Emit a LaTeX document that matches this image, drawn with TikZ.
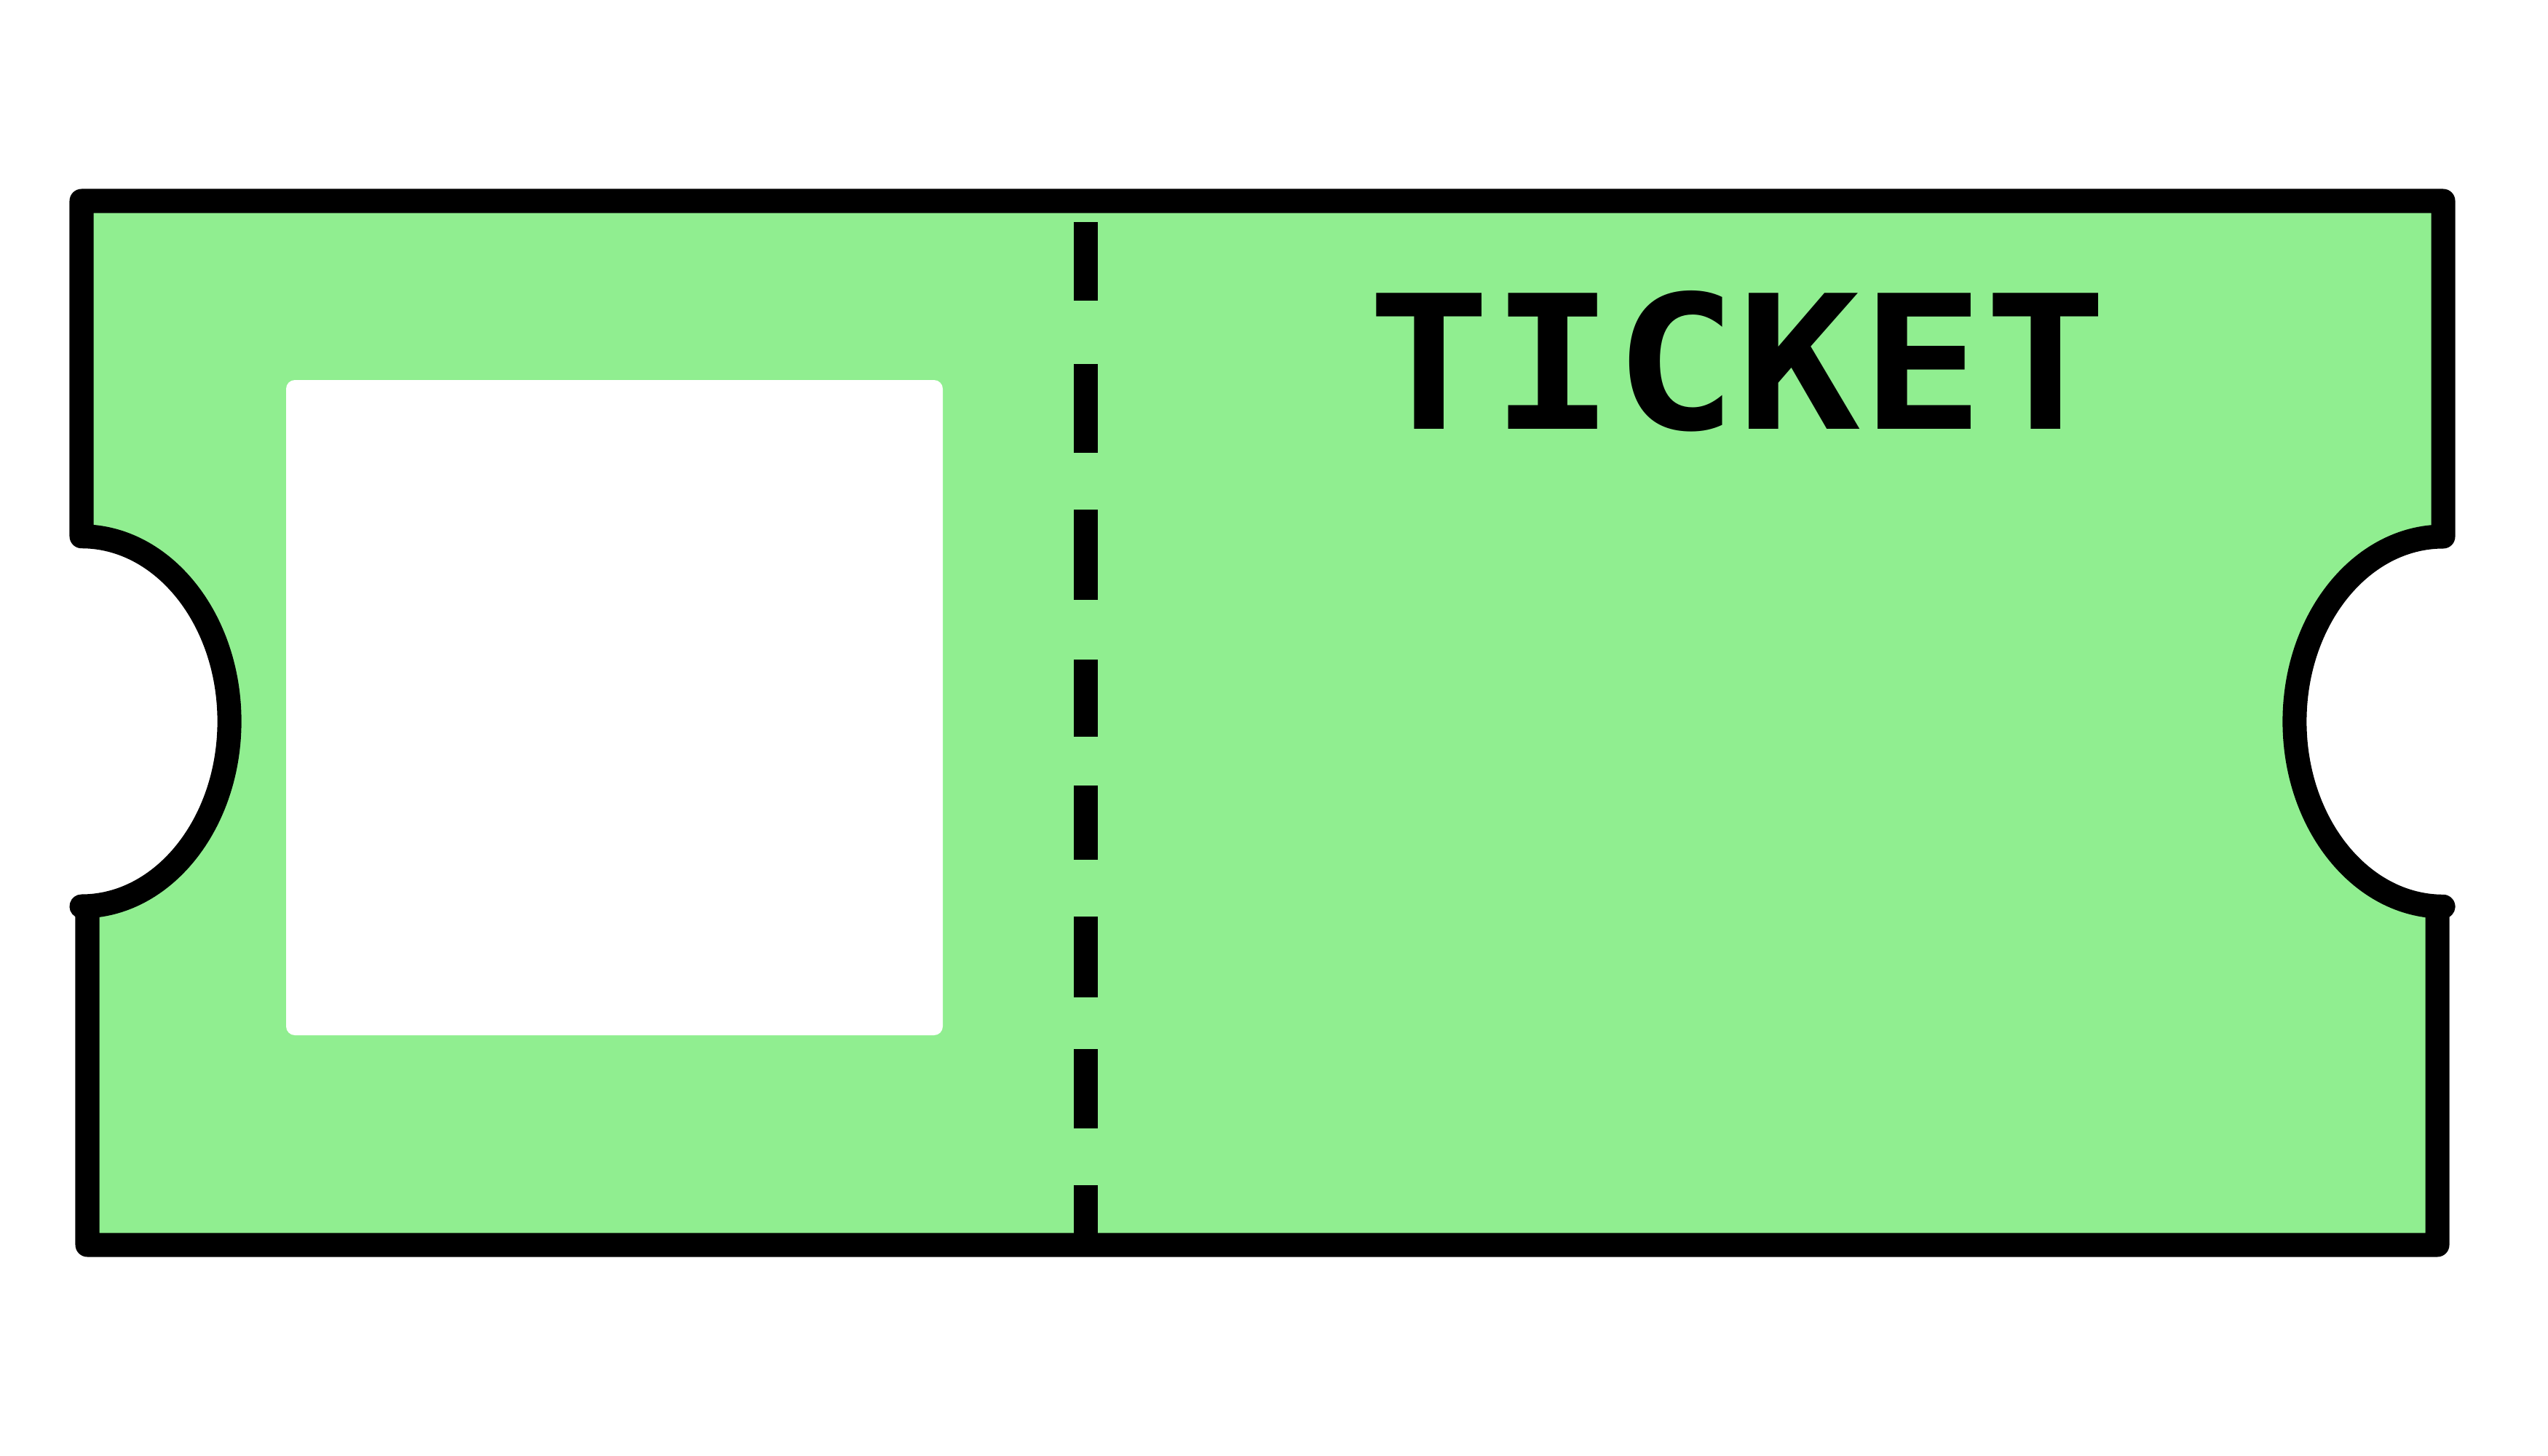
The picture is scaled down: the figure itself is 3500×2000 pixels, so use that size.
\documentclass[tikz,border=0pt]{standalone}
\usepackage{fontspec}
\newfontfamily\ticketfont{DejaVu Sans Mono}
\definecolor{ticketgreen}{HTML}{90EE90}
\tikzset{
  outline/.style={draw=black, fill=ticketgreen, line width=0.33cm, line join=round, line cap=round},
  perforation/.style={draw=black, line width=0.33cm, line cap=butt},
  photo/.style={fill=white, draw=none, rounded corners=0.12cm},
  title/.style={inner sep=0pt, anchor=center}
}
\begin{document}
\begin{tikzpicture}[x=0.01cm, y=-0.01cm]
  \useasboundingbox[fill=white] (0,0) rectangle (3500,2000);
  % ticket outline
  \path[outline]
    (112,276) -- (3356,276) -- (3356,737)
    arc[start angle=90, end angle=270, x radius=2.04cm, y radius=2.54cm]
    -- (3348,1250) -- (3348,1710) -- (120,1710) -- (120,1250) -- (112,1245)
    arc[start angle=-90, end angle=90, x radius=2.03cm, y radius=2.54cm]
    -- cycle;
  % photo area
  \path[photo] (393,522) rectangle (1295,1422);
  % perforation
  \path[perforation]
    (1491,305) -- (1491,413)
    (1491,500) -- (1491,622)
    (1491,700) -- (1491,824)
    (1491,906) -- (1491,1012)
    (1491,1079) -- (1491,1181)
    (1491,1259) -- (1491,1370)
    (1491,1441) -- (1491,1550)
    (1491,1628) -- (1491,1700);
  % title
  \node[title] (ticket) at (2387,496) {\resizebox{10.15cm}{1.9cm}{\ticketfont\bfseries TICKET}};
\end{tikzpicture}
\end{document}
